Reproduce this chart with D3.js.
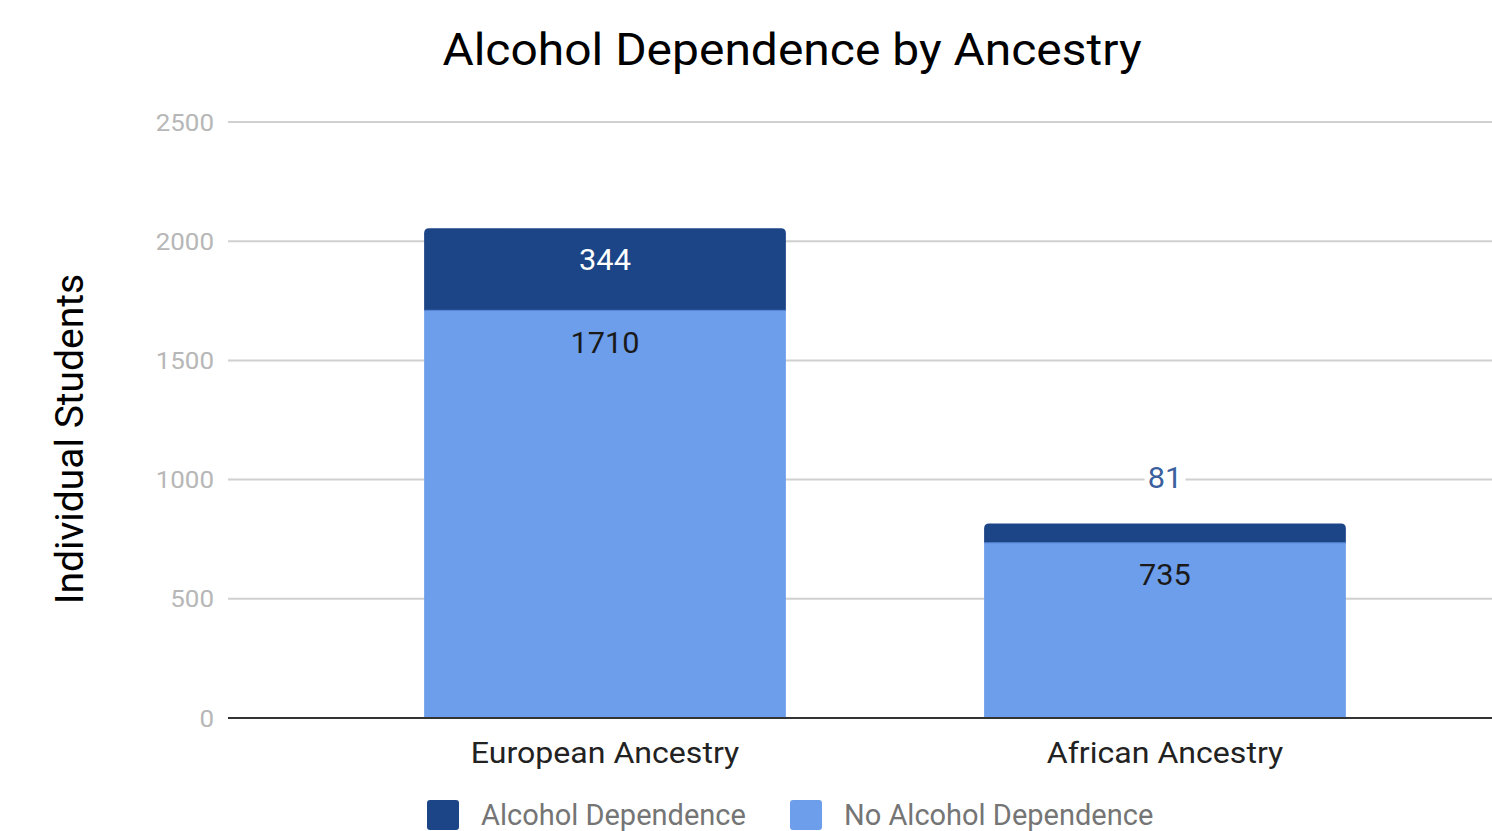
<!DOCTYPE html>
<html>
<head>
<meta charset="utf-8">
<script src="https://cdn.jsdelivr.net/npm/d3@7"></script>
<style>
  body { margin: 0; background: #fff; }
  svg { display: block; font-family: Roboto, sans-serif; }
</style>
</head>
<body>
<div class="chart"></div>
<script>
const categories = ["European Ancestry", "African Ancestry"];
const noDependence = [1710, 735];
const dependence = [344, 81];
const yTicks = [0, 500, 1000, 1500, 2000, 2500];
const seriesNames = ["Alcohol Dependence", "No Alcohol Dependence"];
const colors = {dep: "#1c4587", noDep: "#6d9eeb"};

const width = 1492, height = 831;
const margin = {top: 122, right: 0, bottom: 113, left: 228};

const svg = d3.select(".chart")
  .append("svg")
  .attr("width", width)
  .attr("height", height);

// text in the reference is a little wider than Roboto, stretch it horizontally
const stretch = (px, py, s) => `translate(${px}, ${py}) scale(${s}, 1)`;

const x = d3.scaleBand()
  .domain(categories)
  .range([margin.left, width - margin.right])
  .paddingInner(0.354)
  .paddingOuter(0.3056)
  .align(0.573);

const y = d3.scaleLinear()
  .domain([0, 2500])
  .range([height - margin.bottom, margin.top]);

// title
svg.append("text")
  .attr("transform", stretch(792, 65, 1.09))
  .attr("text-anchor", "middle")
  .attr("font-size", 44)
  .attr("fill", "#000")
  .text("Alcohol Dependence by Ancestry");

// gridlines
svg.append("g")
  .selectAll("line")
  .data(yTicks.filter(d => d > 0))
  .join("line")
  .attr("x1", margin.left)
  .attr("x2", width)
  .attr("y1", d => y(d))
  .attr("y2", d => y(d))
  .attr("stroke", "#d0d0d0")
  .attr("stroke-width", 2);

// y tick labels
svg.append("g")
  .selectAll("text")
  .data(yTicks)
  .join("text")
  .attr("transform", d => stretch(214, y(d), 1.08))
  .attr("dy", "0.36em")
  .attr("text-anchor", "end")
  .attr("font-size", 24)
  .attr("fill", "#b7b7b7")
  .text(d => d);

// y axis title
svg.append("text")
  .attr("transform", "translate(83, 439) rotate(-90)")
  .attr("text-anchor", "middle")
  .attr("font-size", 39)
  .attr("fill", "#000")
  .text("Individual Students");

// lower segments
svg.append("g")
  .selectAll("rect")
  .data(categories)
  .join("rect")
  .attr("x", d => x(d))
  .attr("width", x.bandwidth())
  .attr("y", (d, i) => y(noDependence[i]))
  .attr("height", (d, i) => y(0) - y(noDependence[i]))
  .attr("fill", colors.noDep);

// upper segments with rounded top corners
const r = 5;
svg.append("g")
  .selectAll("path")
  .data(categories)
  .join("path")
  .attr("fill", colors.dep)
  .attr("d", (d, i) => {
    const x0 = x(d), x1 = x(d) + x.bandwidth();
    const yb = y(noDependence[i]), yt = y(noDependence[i] + dependence[i]);
    return `M${x0},${yb}V${yt + r}Q${x0},${yt} ${x0 + r},${yt}H${x1 - r}Q${x1},${yt} ${x1},${yt + r}V${yb}Z`;
  });

// thin separator between segments
svg.append("g")
  .selectAll("line")
  .data(categories)
  .join("line")
  .attr("x1", d => x(d))
  .attr("x2", d => x(d) + x.bandwidth())
  .attr("y1", (d, i) => y(noDependence[i]))
  .attr("y2", (d, i) => y(noDependence[i]))
  .attr("stroke", "#4f7fd0")
  .attr("stroke-width", 1);

// baseline
svg.append("line")
  .attr("x1", margin.left)
  .attr("x2", width)
  .attr("y1", y(0))
  .attr("y2", y(0))
  .attr("stroke", "#333")
  .attr("stroke-width", 2);

// value labels for lower segments
svg.append("g")
  .selectAll("text")
  .data(categories)
  .join("text")
  .attr("transform", (d, i) => stretch(x(d) + x.bandwidth() / 2, y(noDependence[i]) + 32, 1.06))
  .attr("dy", "0.36em")
  .attr("text-anchor", "middle")
  .attr("font-size", 29)
  .attr("fill", "#1a1a1a")
  .text((d, i) => noDependence[i]);

// value labels for upper segments (inside if big enough, else above)
const upper = svg.append("g")
  .selectAll("g")
  .data(categories)
  .join("g");

upper.each(function(d, i) {
  const g = d3.select(this);
  const cx = x(d) + x.bandwidth() / 2;
  const top = y(noDependence[i] + dependence[i]);
  const segH = y(noDependence[i]) - top;
  if (segH > 40) {
    g.append("text")
      .attr("transform", stretch(cx, top + 31, 1.06))
      .attr("dy", "0.36em")
      .attr("text-anchor", "middle")
      .attr("font-size", 29)
      .attr("fill", "#fff")
      .text(dependence[i]);
  } else {
    const sub = g.append("g").attr("transform", stretch(cx, top - 46, 1.06));
    const t = sub.append("text")
      .attr("dy", "0.36em")
      .attr("text-anchor", "middle")
      .attr("font-size", 29)
      .attr("fill", "#3c5f9e")
      .text(dependence[i]);
    const bb = t.node().getBBox();
    sub.insert("rect", "text")
      .attr("x", bb.x - 3)
      .attr("y", bb.y)
      .attr("width", bb.width + 6)
      .attr("height", bb.height)
      .attr("fill", "#fff");
  }
});

// category labels
svg.append("g")
  .selectAll("text")
  .data(categories)
  .join("text")
  .attr("transform", d => stretch(x(d) + x.bandwidth() / 2, 752, 1.07))
  .attr("dy", "0.36em")
  .attr("text-anchor", "middle")
  .attr("font-size", 30)
  .attr("fill", "#222")
  .text(d => d);

// legend
const legendX = [427, 790];
const legend = svg.append("g")
  .selectAll("g")
  .data(seriesNames)
  .join("g")
  .attr("transform", (d, i) => `translate(${legendX[i]}, 800)`);

legend.append("rect")
  .attr("width", 32)
  .attr("height", 30)
  .attr("rx", 3)
  .attr("fill", (d, i) => i === 0 ? colors.dep : colors.noDep);

legend.append("text")
  .attr("x", 54)
  .attr("y", 15)
  .attr("dy", "0.36em")
  .attr("font-size", 29)
  .attr("fill", "#757575")
  .text(d => d);
</script>
</body>
</html>
